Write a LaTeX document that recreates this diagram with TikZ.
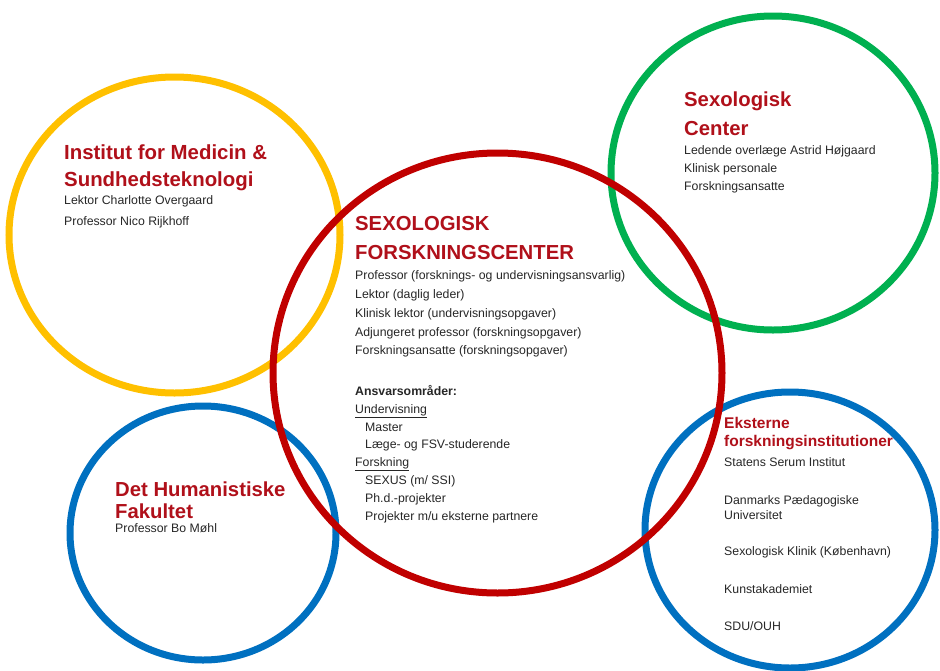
\documentclass[tikz,border=0pt]{standalone}
\usepackage{fontspec}
\setmainfont{Liberation Sans}
\usetikzlibrary{positioning}
\definecolor{ringred}{HTML}{C00000}
\definecolor{ringyellow}{HTML}{FFC000}
\definecolor{ringgreen}{HTML}{00B050}
\definecolor{ringblue}{HTML}{0070C0}
\definecolor{headred}{HTML}{B0101A}
\definecolor{bodygray}{HTML}{262626}

\begin{document}
\begin{tikzpicture}[
    x=1pt, y=-1pt,
    ring/.style={line width=7pt},
    head/.style 2 args={anchor=north west, inner sep=0pt, align=left, text=headred, font=\bfseries\fontsize{#1}{#2}\selectfont},
    body/.style={anchor=north west, inner sep=0pt, align=left, text=bodygray, font=\fontsize{12.3}{#1}\selectfont},
    body/.default=18.8
]
    \useasboundingbox (0,0) rectangle (940,670);

    % Rings
    \draw[ring, ringyellow] (174.5,235) ellipse [x radius=165.5, y radius=158];
    \draw[ring, ringgreen] (773,173) ellipse [x radius=162, y radius=157];
    \draw[ring, ringblue] (203,533) ellipse [x radius=133, y radius=127];
    \draw[ring, ringblue] (790,530) ellipse [x radius=145, y radius=138];
    \draw[ring, ringred] (497.5,373) ellipse [x radius=224.5, y radius=220];

    % Institut for Medicin & Sundhedsteknologi
    \node[head={20.4}{26.7}] (medhead) at (64,145) {Institut for Medicin \&\\Sundhedsteknologi};
    \node[body=20.3] (medstaff) at (64,195.7) {Lektor Charlotte Overgaard\\Professor Nico Rijkhoff};

    % Sexologisk Forskningscenter
    \node[head={20.3}{29}] (sfchead) at (355,216) {SEXOLOGISK\\FORSKNINGSCENTER};
    \node[body=18.75] (sfcstaff) at (355,270.7) {Professor (forsknings- og undervisningsansvarlig)\\
        Lektor (daglig leder)\\
        Klinisk lektor (undervisningsopgaver)\\
        Adjungeret professor (forskningsopgaver)\\
        Forskningsansatte (forskningsopgaver)};
    \node[body=17.85] (sfcareas) at (355,385) {\textbf{Ansvarsområder:}\\
        \underline{Undervisning}\\
        \hspace*{10pt}Master\\
        \hspace*{10pt}Læge- og FSV-studerende\\
        \underline{Forskning}\\
        \hspace*{10pt}SEXUS (m/ SSI)\\
        \hspace*{10pt}Ph.d.-projekter\\
        \hspace*{10pt}Projekter m/u eksterne partnere};

    % Sexologisk Center
    \node[head={20.3}{29.3}] (schead) at (684,91.7) {Sexologisk\\Center};
    \node[body=18] (scstaff) at (684,145.7) {Ledende overlæge Astrid Højgaard\\Klinisk personale\\Forskningsansatte};

    % Eksterne forskningsinstitutioner
    \node[head={15.5}{17.7}] (exthead) at (724,417.3) {Eksterne\\forskningsinstitutioner};
    \node[body=15] (extlist) at (724,457.3) {Statens Serum Institut\\[22.7pt]
        Danmarks Pædagogiske\\
        Universitet\\[21.7pt]
        Sexologisk Klinik (København)\\[22.6pt]
        Kunstakademiet\\[22.4pt]
        SDU/OUH};

    % Det Humanistiske Fakultet
    \node[head={20.3}{21.6}] (humhead) at (115,481.7) {Det Humanistiske\\Fakultet};
    \node[body] (humstaff) at (115,523.3) {Professor Bo Møhl};
\end{tikzpicture}
\end{document}
